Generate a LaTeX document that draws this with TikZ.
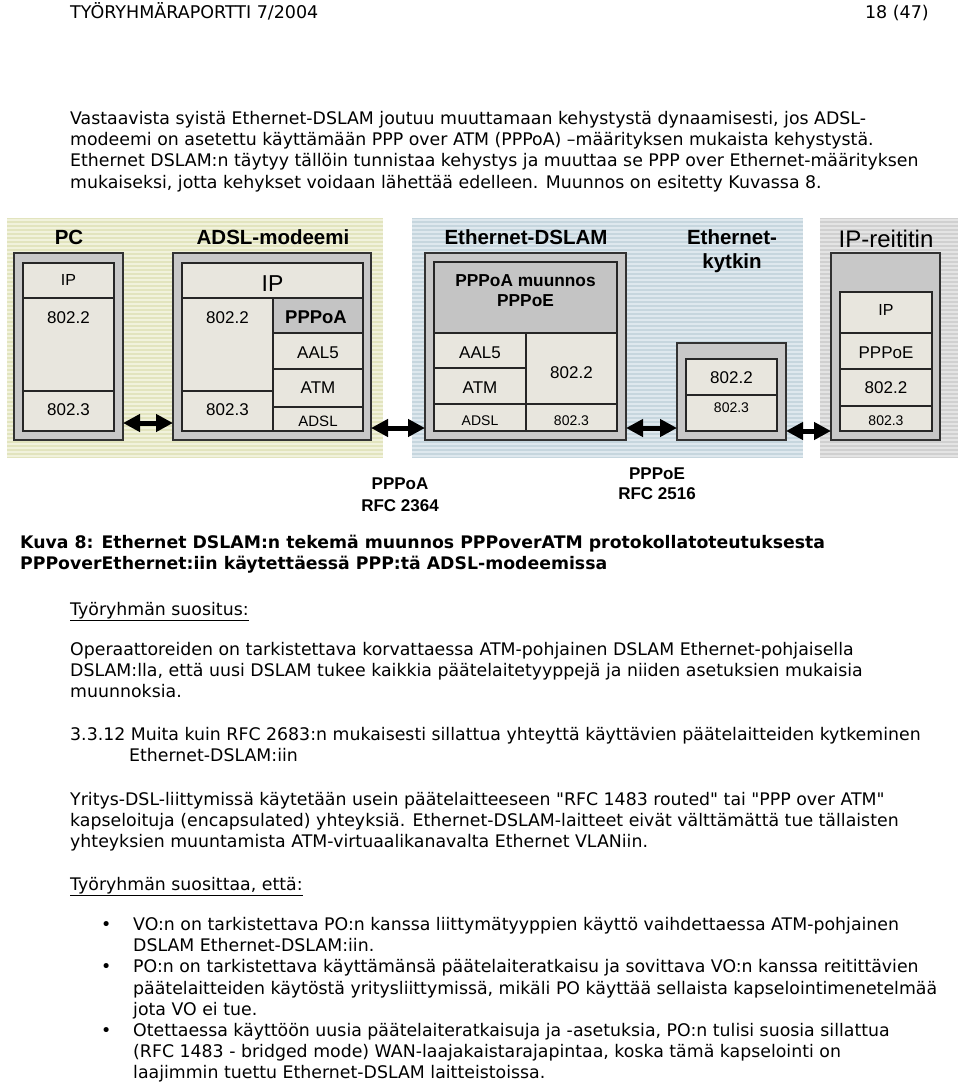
\documentclass[tikz,border=0pt]{standalone}
\usepackage{fontspec}
\setmainfont{Liberation Sans}
\newfontfamily\bodyfont{DejaVu Sans}
\usetikzlibrary{arrows.meta}
\definecolor{ybg}{RGB}{226,228,190}
\definecolor{ystr}{RGB}{241,242,220}
\definecolor{bbg}{RGB}{198,214,222}
\definecolor{bstr}{RGB}{222,232,238}
\definecolor{gbg}{RGB}{208,208,208}
\definecolor{gstr}{RGB}{228,228,228}
\definecolor{boxgray}{RGB}{200,200,200}
\definecolor{boxline}{RGB}{50,50,50}
\definecolor{cellfill}{RGB}{232,230,222}
\definecolor{cellgray}{RGB}{196,196,196}
\tikzset{
  outerbox/.style={draw=boxline, line width=1.5pt, fill=boxgray, inner sep=0pt, outer sep=0pt, anchor=north west},
  cellst/.style={draw=black!85, line width=1.3pt, fill=cellfill},
  cellgr/.style={draw=black!85, line width=1.3pt, fill=cellgray},
  lbl/.style={inner sep=0pt, anchor=base},
  bodytxt/.style={inner sep=0pt, anchor=base west, font={\bodyfont\fontsize{17.35}{21}\selectfont}},
  bodybold/.style={inner sep=0pt, anchor=base west, font={\bodyfont\bfseries\fontsize{17.3}{21}\selectfont}},
  dblarrow/.style={line width=5pt, draw=black, {Triangle[length=17pt,width=17pt]}-{Triangle[length=17pt,width=17pt]}}
}
\newcommand\fsz[1]{\fontsize{#1}{#1}\selectfont}
\begin{document}
\begin{tikzpicture}[x=1pt,y=-1pt]
\useasboundingbox[fill=white] (0,0) rectangle (960,1084);

% ---------- header ----------
\node[bodytxt, font={\bodyfont\fontsize{17.5}{21}\selectfont}] (hdl) at (70,18) {TYÖRYHMÄRAPORTTI 7/2004};
\node[bodytxt, anchor=base east, font={\bodyfont\fontsize{17.5}{21}\selectfont}] (hdr) at (929,18) {18 (47)};

% ---------- paragraph 1 ----------
\node[bodytxt] (p1a) at (70,124) {Vastaavista syistä Ethernet-DSLAM joutuu muuttamaan kehystystä dynaamisesti, jos ADSL-};
\node[bodytxt] (p1b) at (70,145.3) {modeemi on asetettu käyttämään PPP over ATM (PPPoA) –määrityksen mukaista kehystystä.};
\node[bodytxt] (p1c) at (70,166.6) {Ethernet DSLAM:n täytyy tällöin tunnistaa kehystys ja muuttaa se PPP over Ethernet-määrityksen};
\node[bodytxt] (p1d) at (70,188) {mukaiseksi, jotta kehykset voidaan lähettää edelleen. Muunnos on esitetty Kuvassa 8.};

% ---------- background regions ----------
\fill[ybg] (7,218) rectangle (383,458);
\foreach \yy in {220,224,...,456} \draw[ystr, line width=1.6pt] (7,\yy) -- (383,\yy);
\fill[bbg] (412,218) rectangle (803,458);
\foreach \yy in {220,224,...,456} \draw[bstr, line width=1.6pt] (412,\yy) -- (803,\yy);
\fill[gbg] (820,218) rectangle (958,458);
\foreach \yy in {220,224,...,456} \draw[gstr, line width=1.6pt] (820,\yy) -- (958,\yy);

% ---------- titles ----------
\node[lbl, font=\bfseries\fsz{20.5}] (tpc) at (69,244.3) {PC};
\node[lbl, font=\bfseries\fsz{20.5}] (tmod) at (273,244.3) {ADSL-modeemi};
\node[lbl, font=\bfseries\fsz{20.5}] (tdslam) at (526,244.3) {Ethernet-DSLAM};
\node[lbl, font=\bfseries\fsz{20.5}] (tsw1) at (732,244.3) {Ethernet-};
\node[lbl, font=\bfseries\fsz{20.5}] (tsw2) at (732,268.5) {kytkin};
\node[lbl, font=\fsz{24}] (trt) at (886,247.6) {IP-reititin};

% ---------- PC ----------
\node[outerbox, minimum width=109pt, minimum height=187pt] (pc) at (14,253) {};
\draw[cellst] (23,263) rectangle (114,298);
\draw[cellst] (23,298) rectangle (114,391);
\draw[cellst] (23,391) rectangle (114,431);
\node[lbl, font=\fsz{16}] (pcip) at (68.5,285.7) {IP};
\node[lbl, font=\fsz{17}] (pcll) at (68.5,323.1) {802.2};
\node[lbl, font=\fsz{17}] (pceth) at (68.5,415.1) {802.3};

% ---------- ADSL modem ----------
\node[outerbox, minimum width=198pt, minimum height=187pt] (mod) at (173,253) {};
\draw[cellst] (182,263) rectangle (363,298);
\draw[cellst] (182,298) rectangle (273,391);
\draw[cellst] (182,391) rectangle (273,431);
\draw[cellgr] (273,298) rectangle (363,333);
\draw[cellst] (273,333) rectangle (363,369);
\draw[cellst] (273,369) rectangle (363,407);
\draw[cellst] (273,407) rectangle (363,431);
\node[lbl, font=\fsz{23}] (modip) at (272.5,291.2) {IP};
\node[lbl, font=\fsz{17}] (modll) at (227.5,323.1) {802.2};
\node[lbl, font=\fsz{17}] (modeth) at (227.5,415.1) {802.3};
\node[lbl, font=\bfseries\fsz{18.5}] (modppp) at (316,323.6) {PPPoA};
\node[lbl, font=\fsz{17}] (modaal) at (318,358.1) {AAL5};
\node[lbl, font=\fsz{17}] (modatm) at (318,393.1) {ATM};
\node[lbl, font=\fsz{15}] (modadsl) at (318,426.4) {ADSL};

% ---------- Ethernet-DSLAM ----------
\node[outerbox, minimum width=201pt, minimum height=187pt] (dslam) at (425,253) {};
\draw[cellgr] (434,262) rectangle (617,333);
\draw[cellst] (434,333) rectangle (526,368);
\draw[cellst] (434,368) rectangle (526,404);
\draw[cellst] (434,404) rectangle (526,431);
\draw[cellst] (526,333) rectangle (617,404);
\draw[cellst] (526,404) rectangle (617,431);
\node[lbl, font=\bfseries\fsz{17.3}] (dsconv1) at (525.5,286.2) {PPPoA muunnos};
\node[lbl, font=\bfseries\fsz{17.3}] (dsconv2) at (525.5,306.2) {PPPoE};
\node[lbl, font=\fsz{17}] (dsaal) at (480,358.1) {AAL5};
\node[lbl, font=\fsz{17}] (dsatm) at (480,393.1) {ATM};
\node[lbl, font=\fsz{14}] (dsadsl) at (480,425) {ADSL};
\node[lbl, font=\fsz{17}] (dsll) at (571.5,378.1) {802.2};
\node[lbl, font=\fsz{14}] (dseth) at (571.5,425) {802.3};

% ---------- Ethernet switch ----------
\node[outerbox, minimum width=109pt, minimum height=97pt] (sw) at (677,343) {};
\draw[cellst] (686,359) rectangle (777,395);
\draw[cellst] (686,395) rectangle (777,431);
\node[lbl, font=\fsz{17}] (swll) at (731.5,383.1) {802.2};
\node[lbl, font=\fsz{14}] (sweth) at (731.5,412) {802.3};

% ---------- IP router ----------
\node[outerbox, minimum width=109pt, minimum height=187pt] (rt) at (831,253) {};
\draw[cellst] (840,292) rectangle (932,333);
\draw[cellst] (840,333) rectangle (932,369);
\draw[cellst] (840,369) rectangle (932,406);
\draw[cellst] (840,406) rectangle (932,431);
\node[lbl, font=\fsz{16}] (rtip) at (886,315.7) {IP};
\node[lbl, font=\fsz{17}] (rtppp) at (886,358.1) {PPPoE};
\node[lbl, font=\fsz{17}] (rtll) at (886,393.1) {802.2};
\node[lbl, font=\fsz{14}] (rteth) at (886,425) {802.3};

% ---------- connectors ----------
\coordinate (ya) at (0,423);
\coordinate (yb) at (0,428);
\coordinate (yc) at (0,431);
\draw[dblarrow] (pc.east |- ya) -- (mod.west |- ya);
\draw[dblarrow] (mod.east |- yb) -- (dslam.west |- yb);
\draw[dblarrow] (dslam.east |- yb) -- (sw.west |- yb);
\draw[dblarrow] (sw.east |- yc) -- (rt.west |- yc);

% ---------- protocol labels ----------
\node[lbl, font=\bfseries\fsz{17}] (lpppoa) at (400,489.1) {PPPoA};
\node[lbl, font=\bfseries\fsz{17}] (lrfc1) at (400,511.1) {RFC 2364};
\node[lbl, font=\bfseries\fsz{17}] (lpppoe) at (657,479.1) {PPPoE};
\node[lbl, font=\bfseries\fsz{17}] (lrfc2) at (657,499.1) {RFC 2516};

% ---------- caption ----------
\node[bodybold] (cap1) at (20,548) {Kuva 8: Ethernet DSLAM:n tekemä muunnos PPPoverATM protokollatoteutuksesta};
\node[bodybold] (cap2) at (20,569) {PPPoverEthernet:iin käytettäessä PPP:tä ADSL-modeemissa};

% ---------- rest of the text ----------
\node[bodytxt] (s1) at (70,615) {\underline{Työryhmän suositus:}};
\node[bodytxt] (o1) at (70,655) {Operaattoreiden on tarkistettava korvattaessa ATM-pohjainen DSLAM Ethernet-pohjaisella};
\node[bodytxt] (o2) at (70,676) {DSLAM:lla, että uusi DSLAM tukee kaikkia päätelaitetyyppejä ja niiden asetuksien mukaisia};
\node[bodytxt] (o3) at (70,697) {muunnoksia.};
\node[bodytxt] (h1) at (70,740) {3.3.12 Muita kuin RFC 2683:n mukaisesti sillattua yhteyttä käyttävien päätelaitteiden kytkeminen};
\node[bodytxt] (h2) at (129,761) {Ethernet-DSLAM:iin};
\node[bodytxt] (y1) at (70,805) {Yritys-DSL-liittymissä käytetään usein päätelaitteeseen "RFC 1483 routed" tai "PPP over ATM"};
\node[bodytxt] (y2) at (70,826) {kapseloituja (encapsulated) yhteyksiä. Ethernet-DSLAM-laitteet eivät välttämättä tue tällaisten};
\node[bodytxt] (y3) at (70,847) {yhteyksien muuntamista ATM-virtuaalikanavalta Ethernet VLANiin.};
\node[bodytxt] (s2) at (70,890) {\underline{Työryhmän suosittaa, että:}};

\node[bodytxt] (b1) at (101,930) {•};
\node[bodytxt] (b1a) at (133,930) {VO:n on tarkistettava PO:n kanssa liittymätyyppien käyttö vaihdettaessa ATM-pohjainen};
\node[bodytxt] (b1b) at (133,951) {DSLAM Ethernet-DSLAM:iin.};
\node[bodytxt] (b2) at (101,972.5) {•};
\node[bodytxt] (b2a) at (133,972.5) {PO:n on tarkistettava käyttämänsä päätelaiteratkaisu ja sovittava VO:n kanssa reitittävien};
\node[bodytxt] (b2b) at (133,994) {päätelaitteiden käytöstä yritysliittymissä, mikäli PO käyttää sellaista kapselointimenetelmää};
\node[bodytxt] (b2c) at (133,1015) {jota VO ei tue.};
\node[bodytxt] (b3) at (101,1036) {•};
\node[bodytxt] (b3a) at (133,1036) {Otettaessa käyttöön uusia päätelaiteratkaisuja ja -asetuksia, PO:n tulisi suosia sillattua};
\node[bodytxt] (b3b) at (133,1057) {(RFC 1483 - bridged mode) WAN-laajakaistarajapintaa, koska tämä kapselointi on};
\node[bodytxt] (b3c) at (133,1078) {laajimmin tuettu Ethernet-DSLAM laitteistoissa.};
\end{tikzpicture}
\end{document}
